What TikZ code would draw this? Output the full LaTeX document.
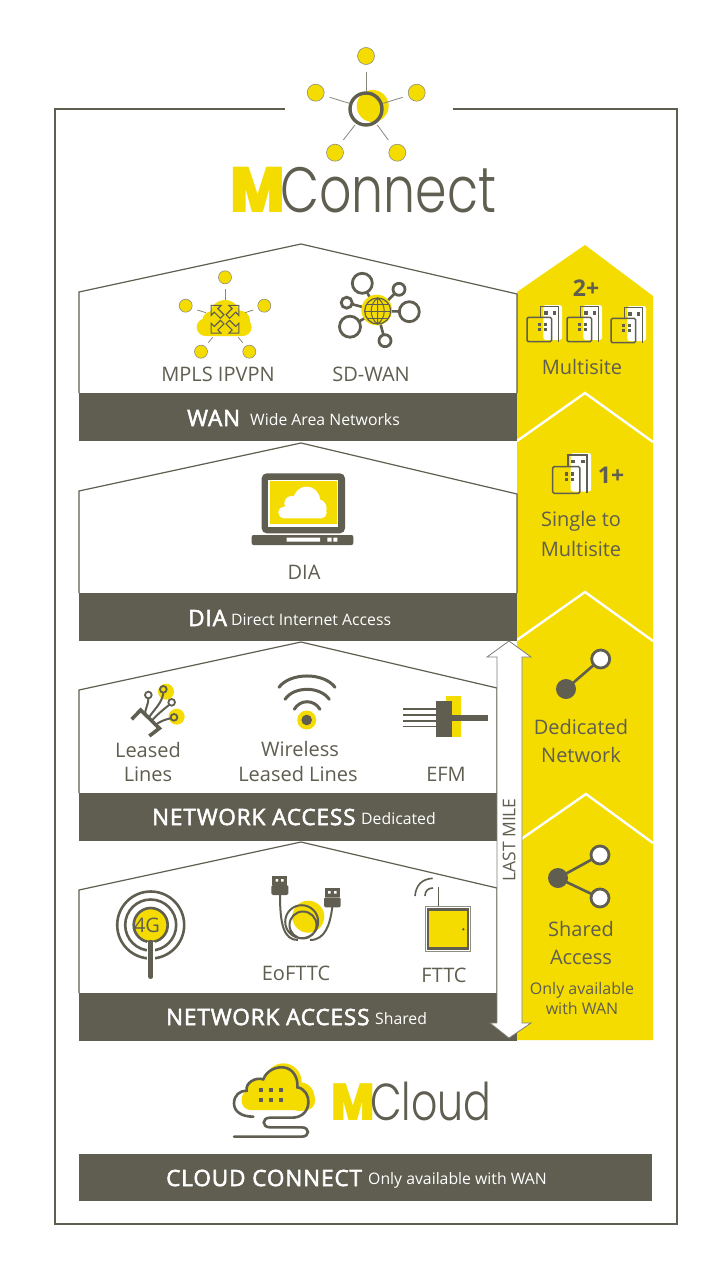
\documentclass[tikz,border=0pt]{standalone}
\usepackage{fontspec}
\setmainfont{Open Sans}
\newfontfamily\logofont{Poppins Light}
\newfontfamily\logoheavy{Poppins}[UprightFont=* Black]
\newfontfamily\semifont{Open Sans}[FakeBold=2.5, LetterSpace=4]
\usetikzlibrary{calc}
\definecolor{mdark}{HTML}{5F5E50}
\definecolor{myellow}{HTML}{F4DC00}
\tikzset{
	darkline/.style={draw=mdark, line width=1.2pt},
	framing/.style={draw=mdark, line width=2.4pt},
	band/.style={fill=mdark},
	bandlabel/.style={text=white, inner sep=0pt, anchor=west},
	headfont/.style={font=\semifont\fontsize{22.5}{24}\selectfont},
	longfont/.style={font=\fontsize{15.8}{18}\selectfont},
	caption/.style={text=mdark, inner sep=0pt, font=\fontsize{20}{24}\selectfont},
	countfont/.style={font=\bfseries\fontsize{23}{26}\selectfont},
	smallcaption/.style={text=mdark, inner sep=0pt, font=\fontsize{16}{20}\selectfont},
	planet/.style={fill=myellow, draw=mdark!70, line width=0.6pt},
	spoke/.style={draw=mdark!75, line width=0.8pt},
	thick line/.style={draw=mdark, line width=2.6pt},
	ring/.style={draw=mdark, line width=2.8pt, fill=white},
	chevron/.style={draw=white, line width=2.4pt},
	logotext/.style={text=mdark, inner sep=0pt, anchor=base west},
	logoletter/.style={text=myellow, inner sep=0pt, anchor=base west}
}
% peak y, right x, right y, band top
\newcommand{\housepanel}[4]{
	\draw[darkline] (79,#4) -- (79,{#1+48}) -- (301,#1) -- (#2,#3) -- (#2,#4);
	\fill[band] (79,#4) rectangle (517,{#4+48});
}
% x, y, scale
\newcommand{\buildingicon}[3]{
	\begin{scope}[shift={(#1,#2)}, scale=#3]
		\fill[white, rounded corners=2.5pt] (16.3,0) rectangle (35,35);
		\draw[mdark, line width=1.5pt] (13.7,12.3) -- (13.7,1.7) -- (31.3,1.7) -- (31.3,36.7);
		\draw[mdark, line width=1.5pt, rounded corners=1.5pt] (0,12.3) rectangle (24.7,36.7);
		\foreach \dx in {11.2,16.5} \foreach \dy in {17.5,22.8}
			\fill[mdark] (\dx,\dy) rectangle ++(3,3);
		\foreach \dx in {17,25.5}
			\fill[mdark] (\dx,6) rectangle ++(3.5,3.5);
	\end{scope}
}
% arrow of the cloud icon, pointing along an angle
\newcommand{\cloudarrow}[1]{
	\draw[draw=mdark, line width=1.1pt, shift={(225,319.3)}, rotate=#1, x=1pt, y=1pt]
		(4,-2.5) -- (12.6,-2.5) -- (12.6,-7) -- (19.6,0) -- (12.6,7) -- (12.6,2.5) -- (4,2.5) -- cycle;
}

\begin{document}
\begin{tikzpicture}[x=1pt, y=-1pt]
	\useasboundingbox (0,0) rectangle (722,1271);
	\fill[white] (0,0) rectangle (722,1271);

	%%%%% frame and logo %%%%%
	\draw[framing] (285,109) -- (55,109) -- (55,1224) -- (677,1224) -- (677,109) -- (453,109);

	\fill[myellow] (372.7,106) circle (16);
	\draw[mdark, line width=3.4pt] (366,109) circle (16);
	\foreach \px/\py/\ax/\ay/\bx/\by in {366/56/366/71.7/366/91.7, 315.7/92.7/329.7/97.3/349.3/103.3, 416.7/92.7/402.7/97.3/383.3/103.3, 335/152.7/343.3/140/355/125, 397.3/152.7/388.3/140/377.3/125}{
		\draw[spoke] (\ax,\ay) -- (\bx,\by);
		\draw[planet] (\px,\py) circle (8.5);
	}
	\node[logoletter, font=\logoheavy\fontsize{64}{64}\selectfont] (mletter) at (230,212) {\scalebox{0.9}[1]{M}};
	\node[logotext, font=\logofont\fontsize{64}{64}\selectfont] (mconnect) at (280,212) {\scalebox{0.79}[1]{Connect}};

	%%%%% yellow column %%%%%
	\fill[myellow] (517,292) -- (585,245) -- (653,296) -- (653,1040) -- (517,1040) -- cycle;
	\draw[chevron] (517,441) -- (585,393) -- (653,442);
	\draw[chevron] (517,640) -- (585,592) -- (653,641);
	\draw[chevron] (517,842) -- (586,794) -- (653,843);

	\node[caption, countfont] (twoplus) at (586,288) {2+};
	\buildingicon{527}{305}{1}
	\buildingicon{567}{305}{1}
	\buildingicon{611}{306}{1}
	\node[caption] (multisite) at (582,367) {Multisite};

	\buildingicon{552.7}{453}{1.1}
	\node[caption, countfont] (oneplus) at (611,475) {1+};
	\node[caption] (singleto) at (581,521) {Single to};
	\node[caption] (multisitetwo) at (581,549) {Multisite};

	\draw[thick line] (566,689) -- (600.7,659);
	\fill[mdark] (566,689) circle (10);
	\draw[ring] (600.7,659) circle (9);
	\node[caption] (dedicated) at (581,727) {Dedicated};
	\node[caption] (network) at (581,755) {Network};

	\draw[thick line] (600,855) -- (558,878) -- (600,898);
	\fill[mdark] (558,878) circle (10);
	\draw[ring] (600,855) circle (9);
	\draw[ring] (600,898) circle (9);
	\node[caption] (shared) at (581,929) {Shared};
	\node[caption] (access) at (581,957) {Access};
	\node[smallcaption] (onlyavail) at (582,990) {Only available};
	\node[smallcaption] (withwan) at (582,1008) {with WAN};

	%%%%% houses %%%%%
	\housepanel{244}{517}{294}{393}
	\housepanel{443}{517}{494}{593}
	\housepanel{642}{497}{688}{793}
	\housepanel{842}{497}{888}{993}

	\node[bandlabel, headfont] (wanlabel) at (187,418) {WAN};
	\node[bandlabel, longfont] (wanlong) at (250,420) {Wide Area Networks};
	\node[bandlabel, headfont] (dialabel) at (188,618) {DIA};
	\node[bandlabel, longfont] (dialong) at (231,620) {Direct Internet Access};
	\node[bandlabel, headfont] (dedlabel) at (152,817) {NETWORK ACCESS};
	\node[bandlabel, longfont] (dedlong) at (361,819) {Dedicated};
	\node[bandlabel, headfont] (shlabel) at (166,1017) {NETWORK ACCESS};
	\node[bandlabel, longfont] (shlong) at (375,1019) {Shared};

	%%%%% MPLS icon %%%%%
	\begin{scope}[shift={(130,250)}, scale=1/3]
		\fill[myellow, rounded corners=9pt] (200,205) rectangle (365,258);
		\fill[myellow] (285,195) circle (45) (245,212) circle (28) (330,212) circle (30);
	\end{scope}
	\foreach \px/\py/\ax/\ay/\bx/\by in {225/277.3/225/289/225/300, 185.7/305.7/197.3/310/206/312.7, 264.3/305.7/253.3/310/245/312.7, 201/351.7/208.3/342.7/212.7/337.3, 249.3/351.7/242.7/342.7/238.3/337.3}{
		\draw[spoke] (\ax,\ay) -- (\bx,\by);
		\draw[planet] (\px,\py) circle (6.5);
	}
	\foreach \ang in {45,135,225,315} {\cloudarrow{\ang}}
	\node[caption] (mplsipvpn) at (218,374) {MPLS IPVPN};

	%%%%% SD-WAN icon %%%%%
	\foreach \rx/\ry/\rr in {362.3/283.3/10, 399/289.3/6, 346.7/302.7/5.5, 409.3/311.7/10, 350/326.7/10.5, 385/340.7/6}{
		\draw[thick line] (\rx,\ry) -- (377,311);
		\draw[ring] (\rx,\ry) circle (\rr);
	}
	\fill[myellow] (376.7,310) circle (15.3);
	\draw[mdark, line width=1.2pt] (377.7,311) circle (13);
	\draw[mdark, line width=1pt] (377.7,298) .. controls (369,304) and (369,318) .. (377.7,324)
		.. controls (386.4,318) and (386.4,304) .. (377.7,298) -- (377.7,324);
	\draw[mdark, line width=1pt] (364.7,311) -- (390.7,311) (367,304) -- (388.4,304) (367,318) -- (388.4,318);
	\node[caption] (sdwan) at (371,374) {SD-WAN};

	%%%%% DIA icon %%%%%
	\begin{scope}[shift={(240,465)}, scale=1/3]
		\fill[mdark, rounded corners=5pt] (65,25) rectangle (315,205);
		\fill[white] (85,45) rectangle (295,185);
		\fill[myellow] (90,48) rectangle (290,178);
		\fill[white, rounded corners=5.5pt] (115,125) rectangle (260,160);
		\fill[white] (200,105) circle (40) (155,115) circle (22) (232,130) circle (28);
		\fill[mdark, rounded corners=2pt] (35,210) rectangle (340,240);
		\fill[white] (140,218) rectangle (240,230) (262,218) rectangle (275,230) (280,218) rectangle (292,230);
	\end{scope}
	\node[caption] (dia) at (304,572) {DIA};

	%%%%% leased lines icon %%%%%
	\begin{scope}[shift={(100,660)}, scale=1/3]
		\fill[myellow] (198,95) circle (24) (230,170) circle (24);
		\draw[mdark, line width=3.6pt] (95,178) -- (122,150) -- (178,205) -- (148,228);
		\draw[mdark, line width=2pt] (135,165) .. controls (135,145) and (145,135) .. (145,117);
		\draw[mdark, line width=2pt] (147,172) .. controls (165,145) and (185,130) .. (190,100);
		\draw[mdark, line width=2pt] (155,182) .. controls (175,160) and (195,145) .. (207,135);
		\draw[mdark, line width=2pt] (165,195) .. controls (180,185) and (195,178) .. (212,175);
		\draw[mdark, line width=1.8pt, fill=white] (145,105) circle (10) (215,127) circle (10);
		\draw[mdark, line width=1.8pt] (190,88) circle (10) (222,172) circle (10);
	\end{scope}
	\node[caption] (leased) at (148,750) {Leased};
	\node[caption] (lines) at (148,774) {Lines};

	%%%%% wireless icon %%%%%
	\fill[myellow] (306.7,720) circle (9.5);
	\fill[mdark] (306.7,720) circle (5.3);
	\draw[mdark, line width=3pt, line cap=round] (279,687.3) .. controls (290,672.2) and (324,672.2) .. (335,687.3);
	\draw[mdark, line width=3pt, line cap=round] (285,699.3) .. controls (294,686) and (320,686) .. (329.3,699.3);
	\draw[mdark, line width=3pt, line cap=round] (294.3,709.3) .. controls (300,699.2) and (314,699.2) .. (320,709.3);
	\node[caption] (wireless) at (300,749) {Wireless};
	\node[caption] (leasedlines) at (298,774) {Leased Lines};

	%%%%% EFM icon %%%%%
	\fill[myellow] (446,696) rectangle (461,736.7);
	\fill[mdark] (436,700.7) rectangle (452.3,737.3);
	\fill[mdark] (452,715) rectangle (487.7,721);
	\foreach \ly in {709,715,721,726.7}
		\draw[mdark, line width=1.4pt] (403.3,\ly) -- (436,\ly);
	\node[caption] (efm) at (446,774) {EFM};

	%%%%% 4G icon %%%%%
	\fill[myellow] (150.7,925) circle (17);
	\draw[mdark, line width=2.6pt] (150.7,925) circle (33.5) (150.7,925) circle (25.5) (150.7,925) circle (17);
	\draw[white, line width=8pt] (150.7,942) -- (150.7,965);
	\draw[mdark, line width=4.5pt, line cap=round] (150.7,942) -- (150.7,976.7);
	\node[caption] (fourg) at (147,925) {4G};

	%%%%% EoFTTC icon %%%%%
	\fill[myellow] (308.3,916.7) circle (16);
	\draw[mdark, line width=2pt] (301.7,921.7) circle (16.5) (303,925) circle (13.5);
	\draw[mdark, line width=2pt] (280,895) .. controls (280,925) and (284,940) .. (298,940);
	\draw[mdark, line width=2pt] (332.3,907) .. controls (330,925) and (325,940) .. (310,940);
	\fill[mdark] (272.3,876) rectangle (286.7,885);
	\fill[mdark, rounded corners=1.5pt] (271.3,885) rectangle (288.3,895);
	\fill[white] (275.5,879) rectangle ++(2.5,2.5) (281,879) rectangle ++(2.5,2.5);
	\fill[mdark] (325,888) rectangle (340,897.3);
	\fill[mdark, rounded corners=1.5pt] (324,897.3) rectangle (340.7,907.3);
	\fill[white] (328,891) rectangle ++(2.5,2.5) (334,891) rectangle ++(2.5,2.5);
	\node[caption] (eofttc) at (296,973) {EoFTTC};

	%%%%% FTTC icon %%%%%
	\draw[mdark!70, line width=1pt] (425,906) rectangle (470.7,951.7);
	\draw[mdark, line width=2.4pt, fill=myellow] (427.7,909.3) rectangle (467.7,948.3);
	\fill[mdark] (463.3,929.3) circle (1.3);
	\draw[mdark, line width=1.4pt] (438.3,886.7) -- (438.3,906);
	\draw[mdark, line width=1.6pt] (415,896) .. controls (416,885) and (422,879) .. (432.7,878.3);
	\draw[mdark, line width=1.6pt] (425,896) .. controls (425,891) and (428,888) .. (433,888);
	\node[caption] (fttc) at (444,975) {FTTC};

	%%%%% last mile arrow %%%%%
	\draw[fill=white, draw=mdark!80, line width=0.8pt] (509,641) -- (531,657) -- (522,657) -- (522,1023)
		-- (531,1023) -- (509,1038) -- (490,1023) -- (497,1023) -- (497,657) -- (487,657) -- cycle;
	\node[text=mdark, inner sep=0pt, rotate=90, font=\fontsize{17.5}{20}\selectfont] (lastmile) at (509,840) {LAST MILE};

	%%%%% MCloud %%%%%
	\begin{scope}[shift={(220,1050)}, scale=1/3]
		\fill[myellow, rounded corners=9pt] (65,120) rectangle (285,180);
		\fill[myellow] (190,95) circle (55) (115,120) circle (35) (240,140) circle (43);
		\draw[mdark, line width=2.6pt, line cap=round] (100,200) .. controls (65,200) and (42,185) .. (42,160)
			.. controls (42,135) and (60,122) .. (80,122) .. controls (75,100) and (105,80) .. (130,88)
			.. controls (140,60) and (170,50) .. (190,52) .. controls (220,55) and (235,85) .. (232,112)
			.. controls (255,115) and (268,140) .. (265,160) .. controls (262,190) and (240,203) .. (215,203)
			-- (150,203) .. controls (125,203) and (125,232) .. (150,232) -- (245,232)
			.. controls (270,232) and (270,260) .. (245,260) -- (42,260);
		\foreach \dx in {117,147,177} \foreach \dy in {114,144}
			\fill[mdark] (\dx,\dy) rectangle ++(12,12);
	\end{scope}
	\node[logoletter, font=\logoheavy\fontsize{52}{52}\selectfont] (mlettercloud) at (331,1120.7) {\scalebox{0.88}[1]{M}};
	\node[logotext, font=\logofont\fontsize{52}{52}\selectfont] (mcloud) at (370,1120.7) {\scalebox{0.79}[1]{Cloud}};

	%%%%% cloud connect band %%%%%
	\fill[band] (79,1154) rectangle (652,1201);
	\node[bandlabel, headfont] (cloudconnect) at (166,1178) {CLOUD CONNECT};
	\node[bandlabel, longfont] (cloudlong) at (368,1180) {Only available with WAN};
\end{tikzpicture}
\end{document}
